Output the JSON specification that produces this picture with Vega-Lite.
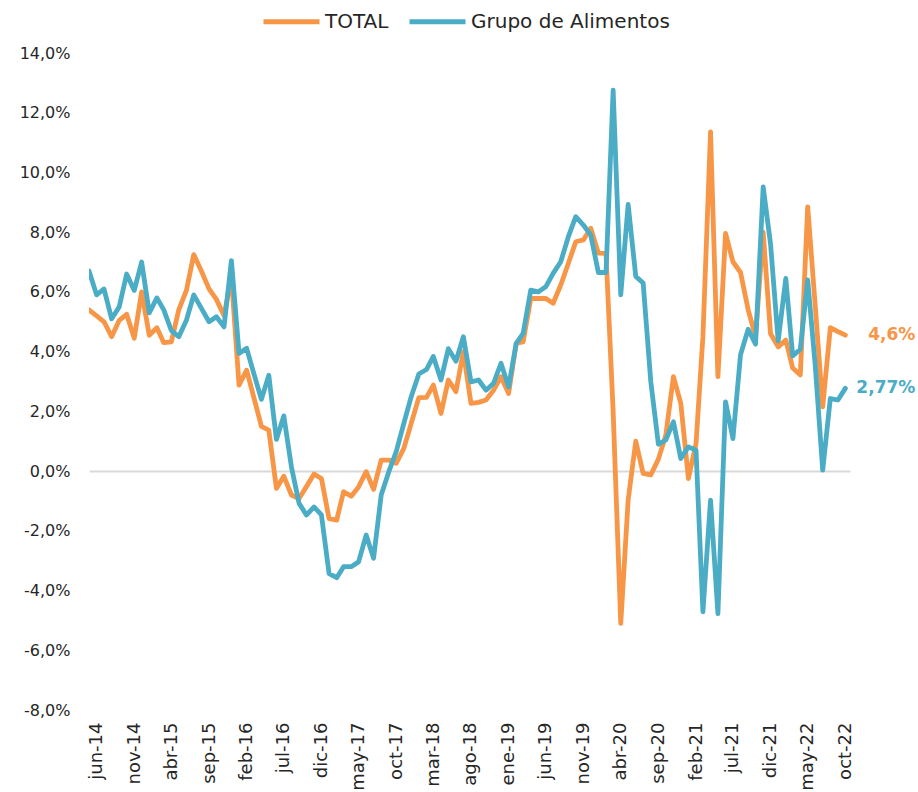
{
  "$schema": "https://vega.github.io/schema/vega-lite/v6.json",
  "width": 761,
  "height": 657,
  "autosize": {"type": "none"},
  "padding": {"left": 89, "top": 53, "right": 68, "bottom": 82},
  "background": "white",
  "config": {"view": {"stroke": null}, "font": "DejaVu Sans", "axis": {"labelOverlap": false}},
  "data": {"values": [
    {"fecha": "2014-05-01", "TOTAL": 5.4, "Grupo de Alimentos": 6.7},
    {"fecha": "2014-06-01", "TOTAL": 5.2, "Grupo de Alimentos": 5.9},
    {"fecha": "2014-07-01", "TOTAL": 5.0, "Grupo de Alimentos": 6.1},
    {"fecha": "2014-08-01", "TOTAL": 4.5, "Grupo de Alimentos": 5.1},
    {"fecha": "2014-09-01", "TOTAL": 5.05, "Grupo de Alimentos": 5.5},
    {"fecha": "2014-10-01", "TOTAL": 5.25, "Grupo de Alimentos": 6.6},
    {"fecha": "2014-11-01", "TOTAL": 4.45, "Grupo de Alimentos": 6.05},
    {"fecha": "2014-12-01", "TOTAL": 6.0, "Grupo de Alimentos": 7.0},
    {"fecha": "2015-01-01", "TOTAL": 4.55, "Grupo de Alimentos": 5.3},
    {"fecha": "2015-02-01", "TOTAL": 4.8, "Grupo de Alimentos": 5.8},
    {"fecha": "2015-03-01", "TOTAL": 4.3, "Grupo de Alimentos": 5.4},
    {"fecha": "2015-04-01", "TOTAL": 4.33, "Grupo de Alimentos": 4.7},
    {"fecha": "2015-05-01", "TOTAL": 5.4, "Grupo de Alimentos": 4.5},
    {"fecha": "2015-06-01", "TOTAL": 6.05, "Grupo de Alimentos": 5.05},
    {"fecha": "2015-07-01", "TOTAL": 7.25, "Grupo de Alimentos": 5.9},
    {"fecha": "2015-08-01", "TOTAL": 6.7, "Grupo de Alimentos": 5.45},
    {"fecha": "2015-09-01", "TOTAL": 6.1, "Grupo de Alimentos": 5.0},
    {"fecha": "2015-10-01", "TOTAL": 5.75, "Grupo de Alimentos": 5.17},
    {"fecha": "2015-11-01", "TOTAL": 5.2, "Grupo de Alimentos": 4.83},
    {"fecha": "2015-12-01", "TOTAL": 6.5, "Grupo de Alimentos": 7.05},
    {"fecha": "2016-01-01", "TOTAL": 2.88, "Grupo de Alimentos": 3.94},
    {"fecha": "2016-02-01", "TOTAL": 3.38, "Grupo de Alimentos": 4.11},
    {"fecha": "2016-03-01", "TOTAL": 2.47, "Grupo de Alimentos": 3.27},
    {"fecha": "2016-04-01", "TOTAL": 1.5, "Grupo de Alimentos": 2.4},
    {"fecha": "2016-05-01", "TOTAL": 1.37, "Grupo de Alimentos": 3.21},
    {"fecha": "2016-06-01", "TOTAL": -0.58, "Grupo de Alimentos": 1.06},
    {"fecha": "2016-07-01", "TOTAL": -0.17, "Grupo de Alimentos": 1.85},
    {"fecha": "2016-08-01", "TOTAL": -0.8, "Grupo de Alimentos": 0.14},
    {"fecha": "2016-09-01", "TOTAL": -0.92, "Grupo de Alimentos": -1.08},
    {"fecha": "2016-10-01", "TOTAL": -0.52, "Grupo de Alimentos": -1.47},
    {"fecha": "2016-11-01", "TOTAL": -0.1, "Grupo de Alimentos": -1.2},
    {"fecha": "2016-12-01", "TOTAL": -0.25, "Grupo de Alimentos": -1.47},
    {"fecha": "2017-01-01", "TOTAL": -1.59, "Grupo de Alimentos": -3.43},
    {"fecha": "2017-02-01", "TOTAL": -1.64, "Grupo de Alimentos": -3.57},
    {"fecha": "2017-03-01", "TOTAL": -0.69, "Grupo de Alimentos": -3.2},
    {"fecha": "2017-04-01", "TOTAL": -0.84, "Grupo de Alimentos": -3.2},
    {"fecha": "2017-05-01", "TOTAL": -0.53, "Grupo de Alimentos": -3.04},
    {"fecha": "2017-06-01", "TOTAL": -0.02, "Grupo de Alimentos": -2.14},
    {"fecha": "2017-07-01", "TOTAL": -0.61, "Grupo de Alimentos": -2.92},
    {"fecha": "2017-08-01", "TOTAL": 0.37, "Grupo de Alimentos": -0.8},
    {"fecha": "2017-09-01", "TOTAL": 0.37, "Grupo de Alimentos": -0.02},
    {"fecha": "2017-10-01", "TOTAL": 0.26, "Grupo de Alimentos": 0.65},
    {"fecha": "2017-11-01", "TOTAL": 0.76, "Grupo de Alimentos": 1.6},
    {"fecha": "2017-12-01", "TOTAL": 1.6, "Grupo de Alimentos": 2.49},
    {"fecha": "2018-01-01", "TOTAL": 2.46, "Grupo de Alimentos": 3.25},
    {"fecha": "2018-02-01", "TOTAL": 2.47, "Grupo de Alimentos": 3.4},
    {"fecha": "2018-03-01", "TOTAL": 2.88, "Grupo de Alimentos": 3.84},
    {"fecha": "2018-04-01", "TOTAL": 1.93, "Grupo de Alimentos": 3.05},
    {"fecha": "2018-05-01", "TOTAL": 3.05, "Grupo de Alimentos": 4.1},
    {"fecha": "2018-06-01", "TOTAL": 2.66, "Grupo de Alimentos": 3.68},
    {"fecha": "2018-07-01", "TOTAL": 4.0, "Grupo de Alimentos": 4.5},
    {"fecha": "2018-08-01", "TOTAL": 2.27, "Grupo de Alimentos": 2.99},
    {"fecha": "2018-09-01", "TOTAL": 2.3, "Grupo de Alimentos": 3.05},
    {"fecha": "2018-10-01", "TOTAL": 2.38, "Grupo de Alimentos": 2.71},
    {"fecha": "2018-11-01", "TOTAL": 2.71, "Grupo de Alimentos": 2.94},
    {"fecha": "2018-12-01", "TOTAL": 3.16, "Grupo de Alimentos": 3.61},
    {"fecha": "2019-01-01", "TOTAL": 2.6, "Grupo de Alimentos": 2.82},
    {"fecha": "2019-02-01", "TOTAL": 4.28, "Grupo de Alimentos": 4.28},
    {"fecha": "2019-03-01", "TOTAL": 4.33, "Grupo de Alimentos": 4.61},
    {"fecha": "2019-04-01", "TOTAL": 5.78, "Grupo de Alimentos": 6.06},
    {"fecha": "2019-05-01", "TOTAL": 5.78, "Grupo de Alimentos": 6.0},
    {"fecha": "2019-06-01", "TOTAL": 5.78, "Grupo de Alimentos": 6.17},
    {"fecha": "2019-07-01", "TOTAL": 5.62, "Grupo de Alimentos": 6.62},
    {"fecha": "2019-08-01", "TOTAL": 6.23, "Grupo de Alimentos": 7.01},
    {"fecha": "2019-09-01", "TOTAL": 6.96, "Grupo de Alimentos": 7.85},
    {"fecha": "2019-10-01", "TOTAL": 7.68, "Grupo de Alimentos": 8.52},
    {"fecha": "2019-11-01", "TOTAL": 7.74, "Grupo de Alimentos": 8.24},
    {"fecha": "2019-12-01", "TOTAL": 8.13, "Grupo de Alimentos": 7.9},
    {"fecha": "2020-01-01", "TOTAL": 7.3, "Grupo de Alimentos": 6.65},
    {"fecha": "2020-02-01", "TOTAL": 7.29, "Grupo de Alimentos": 6.65},
    {"fecha": "2020-03-01", "TOTAL": 2.0, "Grupo de Alimentos": 12.76},
    {"fecha": "2020-04-01", "TOTAL": -5.1, "Grupo de Alimentos": 5.9},
    {"fecha": "2020-05-01", "TOTAL": -0.97, "Grupo de Alimentos": 8.93},
    {"fecha": "2020-06-01", "TOTAL": 1.0, "Grupo de Alimentos": 6.52},
    {"fecha": "2020-07-01", "TOTAL": -0.08, "Grupo de Alimentos": 6.3},
    {"fecha": "2020-08-01", "TOTAL": -0.13, "Grupo de Alimentos": 3.0},
    {"fecha": "2020-09-01", "TOTAL": 0.4, "Grupo de Alimentos": 0.9},
    {"fecha": "2020-10-01", "TOTAL": 1.2, "Grupo de Alimentos": 1.04},
    {"fecha": "2020-11-01", "TOTAL": 3.16, "Grupo de Alimentos": 1.65},
    {"fecha": "2020-12-01", "TOTAL": 2.27, "Grupo de Alimentos": 0.42},
    {"fecha": "2021-01-01", "TOTAL": -0.25, "Grupo de Alimentos": 0.81},
    {"fecha": "2021-02-01", "TOTAL": 0.92, "Grupo de Alimentos": 0.7},
    {"fecha": "2021-03-01", "TOTAL": 4.5, "Grupo de Alimentos": -4.71},
    {"fecha": "2021-04-01", "TOTAL": 11.36, "Grupo de Alimentos": -0.97},
    {"fecha": "2021-05-01", "TOTAL": 3.16, "Grupo de Alimentos": -4.77},
    {"fecha": "2021-06-01", "TOTAL": 7.96, "Grupo de Alimentos": 2.32},
    {"fecha": "2021-07-01", "TOTAL": 7.01, "Grupo de Alimentos": 1.09},
    {"fecha": "2021-08-01", "TOTAL": 6.65, "Grupo de Alimentos": 3.9},
    {"fecha": "2021-09-01", "TOTAL": 5.4, "Grupo de Alimentos": 4.75},
    {"fecha": "2021-10-01", "TOTAL": 4.5, "Grupo de Alimentos": 4.25},
    {"fecha": "2021-11-01", "TOTAL": 8.0, "Grupo de Alimentos": 9.52},
    {"fecha": "2021-12-01", "TOTAL": 4.6, "Grupo de Alimentos": 7.6},
    {"fecha": "2022-01-01", "TOTAL": 4.16, "Grupo de Alimentos": 4.36},
    {"fecha": "2022-02-01", "TOTAL": 4.39, "Grupo de Alimentos": 6.45},
    {"fecha": "2022-03-01", "TOTAL": 3.45, "Grupo de Alimentos": 3.86},
    {"fecha": "2022-04-01", "TOTAL": 3.22, "Grupo de Alimentos": 4.08},
    {"fecha": "2022-05-01", "TOTAL": 8.85, "Grupo de Alimentos": 6.4},
    {"fecha": "2022-06-01", "TOTAL": 5.5, "Grupo de Alimentos": 3.5},
    {"fecha": "2022-07-01", "TOTAL": 2.15, "Grupo de Alimentos": 0.03},
    {"fecha": "2022-08-01", "TOTAL": 4.8, "Grupo de Alimentos": 2.43},
    {"fecha": "2022-09-01", "TOTAL": 4.67, "Grupo de Alimentos": 2.38},
    {"fecha": "2022-10-01", "TOTAL": 4.55, "Grupo de Alimentos": 2.77}
  ]},
  "encoding": {
    "x": {
      "field": "fecha", "type": "temporal",
      "scale": {"type": "utc", "domain": [
        {"year": 2014, "month": 5, "date": 1, "utc": true},
        {"year": 2022, "month": 10, "date": 20, "utc": true}
      ]},
      "axis": {
        "orient": "bottom",
        "values": [
          {"year": 2014, "month": 6, "date": 1, "utc": true},
          {"year": 2014, "month": 11, "date": 1, "utc": true},
          {"year": 2015, "month": 4, "date": 1, "utc": true},
          {"year": 2015, "month": 9, "date": 1, "utc": true},
          {"year": 2016, "month": 2, "date": 1, "utc": true},
          {"year": 2016, "month": 7, "date": 1, "utc": true},
          {"year": 2016, "month": 12, "date": 1, "utc": true},
          {"year": 2017, "month": 5, "date": 1, "utc": true},
          {"year": 2017, "month": 10, "date": 1, "utc": true},
          {"year": 2018, "month": 3, "date": 1, "utc": true},
          {"year": 2018, "month": 8, "date": 1, "utc": true},
          {"year": 2019, "month": 1, "date": 1, "utc": true},
          {"year": 2019, "month": 6, "date": 1, "utc": true},
          {"year": 2019, "month": 11, "date": 1, "utc": true},
          {"year": 2020, "month": 4, "date": 1, "utc": true},
          {"year": 2020, "month": 9, "date": 1, "utc": true},
          {"year": 2021, "month": 2, "date": 1, "utc": true},
          {"year": 2021, "month": 7, "date": 1, "utc": true},
          {"year": 2021, "month": 12, "date": 1, "utc": true},
          {"year": 2022, "month": 5, "date": 1, "utc": true},
          {"year": 2022, "month": 10, "date": 1, "utc": true}
        ],
        "labelExpr": "['ene','feb','mar','abr','may','jun','jul','ago','sep','oct','nov','dic'][utcmonth(datum.value)] + '-' + utcFormat(datum.value, '%y')",
        "labelAngle": -90,
        "labelAlign": "right",
        "labelBaseline": "middle",
        "labelFontSize": 18,
        "labelFont": "DejaVu Sans",
        "labelColor": "#262626",
        "labelPadding": 12,
        "labelOverlap": {"expr": "false"},
        "labelFlush": false,
        "labelBound": false,
        "domain": false,
        "ticks": false,
        "grid": false,
        "title": null
      }
    },
    "y": {
      "field": "valor", "type": "quantitative",
      "scale": {"domain": [-8, 14], "nice": false, "zero": false},
      "axis": {
        "values": [-8, -6, -4, -2, 0, 2, 4, 6, 8, 10, 12, 14],
        "labelExpr": "replace(replace(format(datum.value, '.1f'), '.', ','), '\u2212', '-') + '%'",
        "labelFontSize": 16,
        "labelFont": "DejaVu Sans",
        "labelColor": "#262626",
        "labelPadding": 19,
        "domain": false,
        "ticks": false,
        "grid": true,
        "gridColor": "#D9D9D9",
        "gridWidth": 2,
        "gridOpacity": {"condition": {"test": "datum.value === 0", "value": 1}, "value": 0},
        "title": null
      }
    },
    "color": {
      "field": "serie", "type": "nominal",
      "scale": {"domain": ["TOTAL", "Grupo de Alimentos"], "range": ["#F79646", "#4BACC6"]},
      "legend": {
        "orient": "none", "legendX": 172, "legendY": -62,
        "direction": "horizontal", "title": null,
        "symbolType": "stroke", "symbolSize": 3136, "symbolStrokeWidth": 5,
        "labelFontSize": 20, "labelFont": "DejaVu Sans", "labelColor": "#262626",
        "labelLimit": 0,
        "labelOffset": 3, "columnPadding": 10, "padding": 0
      }
    }
  },
  "layer": [
    {
      "transform": [
        {"fold": ["TOTAL", "Grupo de Alimentos"], "as": ["serie", "valor"]},
        {"filter": "datum.serie === 'TOTAL'"}
      ],
      "mark": {"type": "line", "strokeWidth": 4.8, "strokeCap": "round", "strokeJoin": "round", "clip": true}
    },
    {
      "transform": [
        {"fold": ["TOTAL", "Grupo de Alimentos"], "as": ["serie", "valor"]},
        {"filter": "datum.serie === 'Grupo de Alimentos'"}
      ],
      "mark": {"type": "line", "strokeWidth": 4.8, "strokeCap": "round", "strokeJoin": "round", "clip": true}
    },
    {
      "data": {"values": [
        {"fecha": "2022-10-01", "serie": "TOTAL", "valor": 4.55, "texto": "4,6%"},
        {"fecha": "2022-10-01", "serie": "Grupo de Alimentos", "valor": 2.77, "texto": "2,77%"}
      ]},
      "mark": {"type": "text", "align": "right", "baseline": "middle", "dx": 70, "fontSize": 17, "fontWeight": "bold", "font": "DejaVu Sans"},
      "encoding": {
        "text": {"field": "texto"}
      }
    }
  ]
}
